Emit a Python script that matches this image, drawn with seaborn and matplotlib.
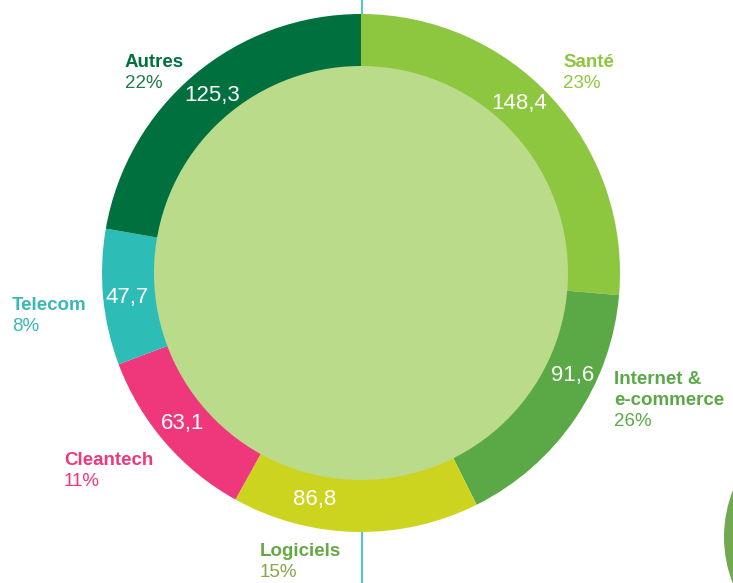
"""
Donut chart: montants investis par secteur
"""

import matplotlib
matplotlib.use("Agg")
import matplotlib.pyplot as plt
from matplotlib.patches import Circle
import seaborn as sns

# Data
sectors = ['Santé', 'Internet &\ne-commerce', 'Logiciels', 'Cleantech', 'Telecom', 'Autres']
amounts = [148.4, 91.6, 86.8, 63.1, 47.7, 125.3]
amount_labels = ['148,4', '91,6', '86,8', '63,1', '47,7', '125,3']
shares = ['23%', '26%', '15%', '11%', '8%', '22%']

# Styles
ring_colors = ['#8dc63f', '#5aa946', '#cdd420', '#ee387b', '#2ebdb6', '#00703f']
name_colors = ['#8dc63f', '#5aa946', '#64a943', '#ee387b', '#38b9b6', '#00703f']
share_colors = ['#8dc63f', '#5aa946', '#86a64e', '#ee387b', '#38b9b6', '#1f7a4d']
inner_color = '#badb89'

W, H = 733, 583
CX, CY = 361, H - 273
R_OUT, R_IN = 259, 207
LINE = 21  # px between text baselines

# text anchors in pixel coords (x, baseline of first line)
name_pos = [(563, 67), (614, 384), (260, 556), (64, 465), (12, 310), (125, 67)]
value_pos = [(519, 103), (573, 376), (315, 499), (183, 423), (127, 298), (212, 95)]

sns.set_theme(style='white')
plt.rcParams['font.family'] = ['Liberation Sans', 'DejaVu Sans']

fig = plt.figure(figsize=(W / 100, H / 100), dpi=100)
ax = fig.add_axes([0, 0, 1, 1])

# vertical guide line behind the donut
ax.axvline(362, color='#2bbfc0', lw=1.2, zorder=0)

ax.pie(amounts, colors=ring_colors, radius=R_OUT, center=(CX, CY),
       startangle=90, counterclock=False,
       wedgeprops=dict(width=R_OUT - R_IN + 2, linewidth=0), frame=False)
ax.add_patch(Circle((CX, CY), R_IN, color=inner_color, lw=0, zorder=3))

# piece of the neighbouring chart, bottom right
ax.add_patch(Circle((851, H - 537), 127, color='#72a84f', lw=0, zorder=1))

for name, share, nc, sc, (x, y) in zip(sectors, shares, name_colors, share_colors, name_pos):
    lines = name.split('\n')
    for i, line in enumerate(lines):
        ax.text(x, H - (y + LINE * i), line, color=nc, fontsize=13.5, fontweight='bold',
                ha='left', va='baseline', zorder=5)
    ax.text(x, H - (y + LINE * len(lines)), share, color=sc, fontsize=13.5,
            ha='left', va='baseline', zorder=5)

for lab, (x, y) in zip(amount_labels, value_pos):
    ax.text(x, H - y, lab, color='white', fontsize=16, ha='center', va='center', zorder=5)

ax.set_xlim(0, W)
ax.set_ylim(0, H)
ax.set_aspect('auto')
ax.axis('off')

plt.savefig('out.png', dpi=100)
plt.close()
